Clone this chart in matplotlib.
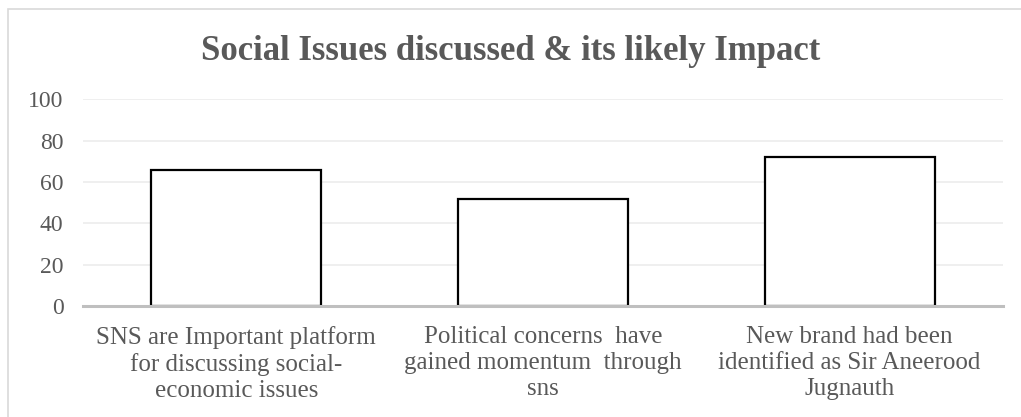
import matplotlib.pyplot as plt
from matplotlib.patches import Rectangle

CATEGORIES = [
    "SNS are Important platform\nfor discussing social-\neconomic issues",
    "Political concerns  have\ngained momentum  through\nsns",
    "New brand had been\nidentified as Sir Aneerood\nJugnauth",
]
VALUES = [66, 52, 72]
Y_TICKS = [0, 20, 40, 60, 80, 100]

TEXT_GRAY = "#595959"

plt.rcParams["font.family"] = ["Liberation Serif", "DejaVu Serif"]

fig = plt.figure(figsize=(10.21, 4.17), dpi=100)
ax = fig.add_axes([0.0813, 0.266, 0.901, 0.496])

x = range(len(VALUES))
ax.bar(x, VALUES, width=0.555, color="white", edgecolor="black", linewidth=1.6, zorder=3)

ax.set_ylim(0, 100)
ax.set_xlim(-0.5, len(VALUES) - 0.5)
ax.set_yticks(Y_TICKS)
ax.set_yticklabels([str(t) for t in Y_TICKS], fontsize=17, color=TEXT_GRAY)
ax.set_xticks(list(x))
ax.set_xticklabels(CATEGORIES, fontsize=18, color=TEXT_GRAY, linespacing=1.25)
ax.tick_params(axis="both", length=0)
ax.tick_params(axis="y", pad=14)
ax.tick_params(axis="x", pad=14)

ax.grid(axis="y", color="#ececec", linewidth=1.2, zorder=0)
for side in ["top", "right", "left"]:
    ax.spines[side].set_visible(False)
ax.spines["bottom"].set_color("#bfbfbf")
ax.spines["bottom"].set_linewidth(2.2)
ax.spines["bottom"].set_zorder(4)

fig.text(0.5, 0.855, "Social Issues discussed & its likely Impact",
         ha="center", va="baseline", fontsize=25, fontweight="bold", color=TEXT_GRAY)

# chart area border (runs off the right and bottom edges)
fig.patches.append(Rectangle((0.0078, -0.05), 1.05, 1.028, transform=fig.transFigure,
                             fill=False, edgecolor="#d9d9d9", linewidth=1.2))

fig.savefig("out.png", dpi=100)
